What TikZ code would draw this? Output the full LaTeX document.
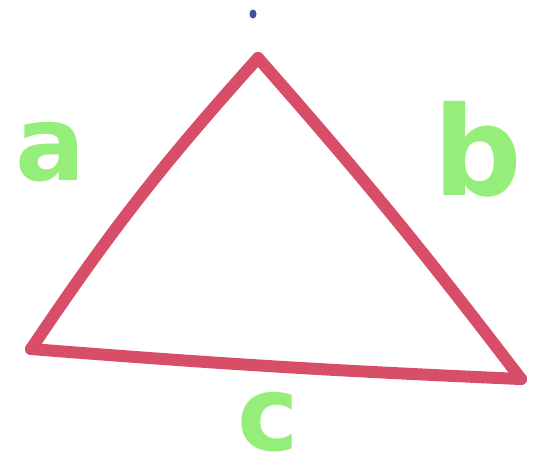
\documentclass[tikz,border=0pt]{standalone}
\usepackage{fontspec}
\setmainfont{DejaVu Sans}
\usepackage{tikz}
\usetikzlibrary{positioning}

\begin{document}
\begin{tikzpicture}[x=1pt, y=-1pt]
    % Colours
    \definecolor{edgered}{RGB}{216, 78, 104}
    \definecolor{lettergreen}{RGB}{150, 238, 122}
    \definecolor{dotblue}{RGB}{70, 80, 150}
    \tikzset{
        edge/.style={edgered, line width=12pt, line cap=round, line join=round},
        letter/.style={text=lettergreen, font=\bfseries, inner sep=0pt}
    }
    \useasboundingbox (0,0) rectangle (556,467);

    % 1. Vertices
    \coordinate (top) at (258,58);
    \coordinate (left) at (31,349);
    \coordinate (right) at (521,379);

    % 2. Triangle sides
    \draw[edge] (top) to[bend right=4] (left);
    \draw[edge] (left) to[bend right=1] (right);
    \draw[edge] (right) to[bend right=2] (top);

    % 3. Dot above the top vertex
    \fill[dotblue] (253,14) ellipse (3.5 and 4.5);

    % 4. Side labels
    \node[letter, font=\fontsize{104}{104}\selectfont\bfseries] (la) at (51,152) {a};
    \node[letter, font=\fontsize{124}{124}\selectfont\bfseries] (lb) at (478,149) {b};
    \node[letter, font=\fontsize{104}{104}\selectfont\bfseries] (lc) at (268,422) {c};
\end{tikzpicture}
\end{document}
